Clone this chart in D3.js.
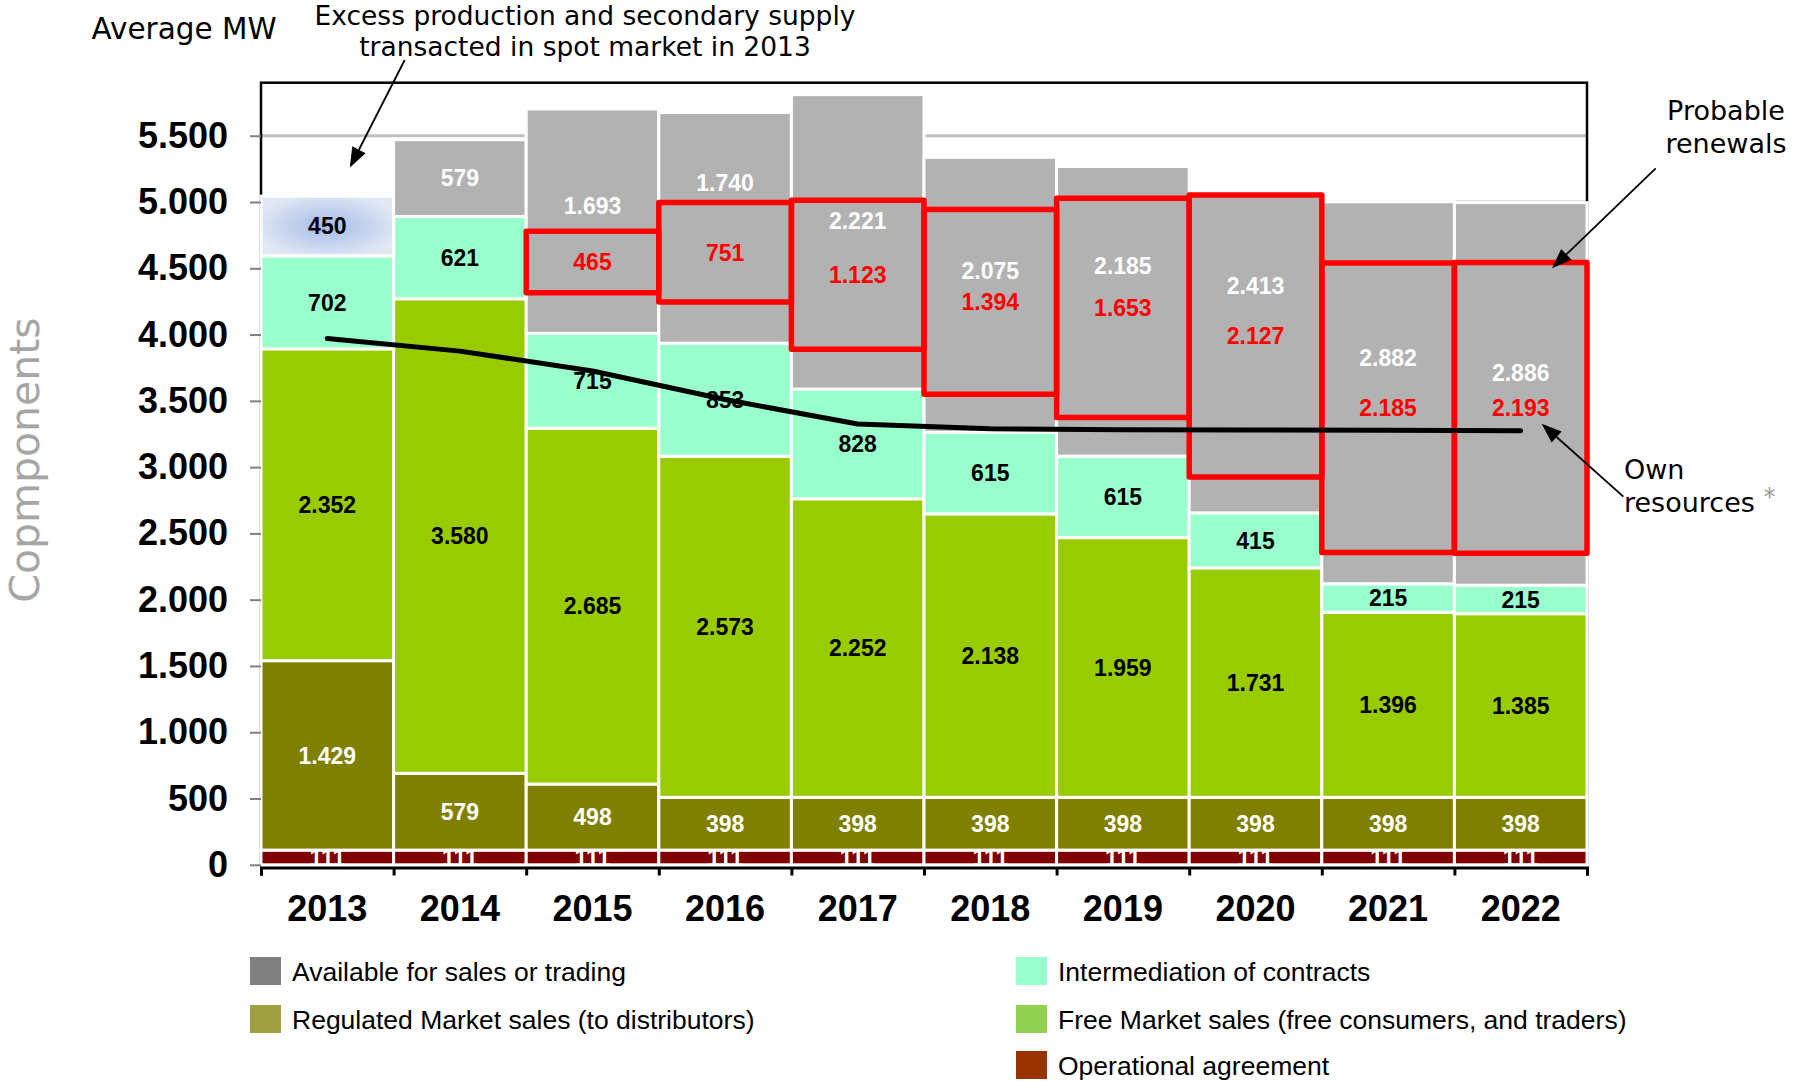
<!DOCTYPE html>
<html>
<head>
<meta charset="utf-8">
<script src="https://cdn.jsdelivr.net/npm/d3@7"></script>
<style>
  html, body { margin: 0; padding: 0; background: #ffffff; }
  svg { display: block; }
</style>
</head>
<body>
<svg id="chart" width="1793" height="1081"></svg>
<script>
// ---- Data (average MW) ----
const years = ["2013", "2014", "2015", "2016", "2017", "2018", "2019", "2020", "2021", "2022"];
const operational    = [111, 111, 111, 111, 111, 111, 111, 111, 111, 111];
const regulated      = [1429, 579, 498, 398, 398, 398, 398, 398, 398, 398];
const freeMarket     = [2352, 3580, 2685, 2573, 2252, 2138, 1959, 1731, 1396, 1385];
const intermediation = [702, 621, 715, 853, 828, 615, 615, 415, 215, 215];
const available      = [450, 579, 1693, 1740, 2221, 2075, 2185, 2413, 2882, 2886];
// probable renewals (red boxes) and the level their box starts from
const renewals       = [null, null, 465, 751, 1123, 1394, 1653, 2127, 2185, 2193];
const renewalsFloor  = [null, null, 4315, 4245, 3890, 3550, 3375, 2925, 2355, 2350];
// own resources line
const ownResources   = [3970, 3875, 3725, 3510, 3325, 3290, 3282, 3280, 3278, 3275];
const yTicks = [0, 500, 1000, 1500, 2000, 2500, 3000, 3500, 4000, 4500, 5000, 5500];

const seriesNames = {
  available: "Available for sales or trading",
  regulated: "Regulated Market sales (to distributors)",
  intermediation: "Intermediation of contracts",
  freeMarket: "Free Market sales (free consumers, and traders)",
  operational: "Operational agreement"
};

// ---- Layout & styles ----
const W = 1793, H = 1081;
const plot = { left: 261, right: 1587, top: 82.7, bottom: 864.8 };
const keys = ["operational", "regulated", "freeMarket", "intermediation", "available"];
const barColor = {
  operational: "#7F0000", regulated: "#808000", freeMarket: "#99CC00",
  intermediation: "#99FFCC", available: "#B2B2B2"
};
const labelColor = {
  operational: "#ffffff", regulated: "#ffffff", freeMarket: "#000000",
  intermediation: "#000000", available: "#ffffff"
};
// where the "available" values are written inside the grey blocks (MW level; null = centred)
const availableLabelAt = [null, null, 4971, 5143, 4859, 4480, 4523, 4367, 3824, 3712];

const legendItems = [
  { key: "available", color: "#808080", col: 0, row: 0 },
  { key: "intermediation", color: "#99FFCC", col: 1, row: 0 },
  { key: "regulated", color: "#A0A040", col: 0, row: 1 },
  { key: "freeMarket", color: "#92D050", col: 1, row: 1 },
  { key: "operational", color: "#993300", col: 1, row: 2 }
];

const ARIAL = "'Liberation Sans', Arial, Helvetica, sans-serif";
const VERDANA = "'DejaVu Sans', Verdana, sans-serif";

const fmt = d3.formatLocale({ decimal: ",", thousands: ".", grouping: [3], currency: ["", ""] }).format(",");

const svg = d3.select("#chart");
svg.append("rect").attr("width", W).attr("height", H).attr("fill", "#ffffff");

const defs = svg.append("defs");
const glow = defs.append("radialGradient").attr("id", "spotGlow")
  .attr("cx", "50%").attr("cy", "50%").attr("r", "55%");
glow.append("stop").attr("offset", "0%").attr("stop-color", "#A3BAE6");
glow.append("stop").attr("offset", "100%").attr("stop-color", "#E2E8F5");

// ---- Scales ----
const x = d3.scaleBand().domain(years).range([plot.left, plot.right]).padding(0);
const bw = x.bandwidth();
const y = d3.scaleLinear().domain([0, 5900]).range([plot.bottom, plot.top]);
const xEdge = d3.scaleLinear().domain([0, years.length]).range([plot.left, plot.right]);

// ---- Stack ----
const rows = years.map((yr, i) => ({
  year: yr,
  operational: operational[i],
  regulated: regulated[i],
  freeMarket: freeMarket[i],
  intermediation: intermediation[i],
  available: available[i]
}));
const stacked = d3.stack().keys(keys)(rows);

// ---- Gridlines ----
svg.append("g").selectAll("line").data(yTicks.filter(t => t > 0)).join("line")
  .attr("x1", plot.left).attr("x2", plot.right)
  .attr("y1", d => y(d)).attr("y2", d => y(d))
  .attr("stroke", "#C0C0C0").attr("stroke-width", 3);

// ---- Frame ----
svg.append("rect")
  .attr("x", plot.left).attr("y", plot.top)
  .attr("width", plot.right - plot.left).attr("height", plot.bottom - plot.top)
  .attr("fill", "none").attr("stroke", "#000").attr("stroke-width", 2.5);

// ---- Bars ----
const layer = svg.append("g").selectAll("g").data(stacked).join("g");
layer.selectAll("rect").data(s => s.map(d => ({ key: s.key, d }))).join("rect")
  .attr("x", o => x(o.d.data.year))
  .attr("width", bw)
  .attr("y", o => y(o.d[1]))
  .attr("height", o => y(o.d[0]) - y(o.d[1]))
  .attr("fill", o => (o.key === "available" && o.d.data.year === "2013") ? "url(#spotGlow)" : barColor[o.key])
  .attr("stroke", "#ffffff").attr("stroke-width", 3);

// ---- Y axis ----
const yAxis = svg.append("g").attr("transform", `translate(${plot.left},0)`)
  .call(d3.axisLeft(y).tickValues(yTicks).tickSize(11).tickPadding(22).tickFormat(fmt));
yAxis.select(".domain").remove();
yAxis.selectAll(".tick line").attr("stroke", "#808080").attr("stroke-width", 2);
yAxis.selectAll(".tick text")
  .attr("font-family", ARIAL).attr("font-size", 36).attr("font-weight", "bold").attr("fill", "#000");

// ---- X axis: boundary ticks and year labels ----
const xTickAxis = svg.append("g").attr("transform", `translate(0,${plot.bottom + 2.7})`)
  .call(d3.axisBottom(xEdge).tickValues(d3.range(years.length + 1)).tickSize(8).tickSizeOuter(8).tickFormat(""));
xTickAxis.select(".domain").attr("stroke", "#000").attr("stroke-width", 3);
xTickAxis.selectAll(".tick line").attr("stroke", "#000").attr("stroke-width", 3);

const xLabelAxis = svg.append("g").attr("transform", `translate(0,${plot.bottom})`)
  .call(d3.axisBottom(x).tickSize(0).tickPadding(30.6));
xLabelAxis.select(".domain").remove();
xLabelAxis.selectAll(".tick text")
  .attr("font-family", ARIAL).attr("font-size", 36).attr("font-weight", "bold").attr("fill", "#000");

// ---- Segment value labels ----
const labels = svg.append("g")
  .attr("font-family", ARIAL).attr("font-size", 23).attr("font-weight", "bold")
  .attr("text-anchor", "middle");
stacked.forEach(s => {
  s.forEach((d, i) => {
    let level = (d[0] + d[1]) / 2;
    if (s.key === "available" && availableLabelAt[i] != null) level = availableLabelAt[i];
    const col = (s.key === "available" && i === 0) ? "#000000" : labelColor[s.key];
    labels.append("text")
      .attr("x", x(d.data.year) + bw / 2)
      .attr("y", y(level))
      .attr("dy", "0.36em")
      .attr("fill", col)
      .text(fmt(d[1] - d[0]));
  });
});

// ---- Probable renewals boxes ----
const boxes = svg.append("g");
years.forEach((yr, i) => {
  if (renewals[i] == null) return;
  const lo = renewalsFloor[i], hi = renewalsFloor[i] + renewals[i];
  boxes.append("rect")
    .attr("x", x(yr)).attr("width", bw)
    .attr("y", y(hi)).attr("height", y(lo) - y(hi))
    .attr("fill", "none").attr("stroke", "#FF0000").attr("stroke-width", 5.5)
    .attr("stroke-linejoin", "round");
  boxes.append("text")
    .attr("x", x(yr) + bw / 2).attr("y", y((lo + hi) / 2)).attr("dy", "0.36em")
    .attr("text-anchor", "middle")
    .attr("font-family", ARIAL).attr("font-size", 23).attr("font-weight", "bold")
    .attr("fill", "#FF0000")
    .text(fmt(renewals[i]));
});

// ---- Own resources line ----
const line = d3.line().x((d, i) => x(years[i]) + bw / 2).y(d => y(d));
svg.append("path").datum(ownResources)
  .attr("d", line).attr("fill", "none")
  .attr("stroke", "#000").attr("stroke-width", 5)
  .attr("stroke-linecap", "round").attr("stroke-linejoin", "round");

// ---- Annotations ----
function arrow(x1, y1, x2, y2) {
  const ang = Math.atan2(y2 - y1, x2 - x1);
  const len = 20, half = 7.5;
  const bx = x2 - len * Math.cos(ang), by = y2 - len * Math.sin(ang);
  svg.append("line").attr("x1", x1).attr("y1", y1).attr("x2", bx).attr("y2", by)
    .attr("stroke", "#000").attr("stroke-width", 1.8);
  const px = -Math.sin(ang) * half, py = Math.cos(ang) * half;
  svg.append("polygon")
    .attr("points", `${x2},${y2} ${bx + px},${by + py} ${bx - px},${by - py}`)
    .attr("fill", "#000");
}

const note = svg.append("g").attr("font-family", VERDANA).attr("fill", "#000");
note.append("text").attr("x", 91.5).attr("y", 28.6).attr("dy", "0.36em")
  .attr("font-size", 29.5).text("Average MW");
note.append("text").attr("x", 585).attr("y", 15.5).attr("dy", "0.36em")
  .attr("font-size", 26.5).attr("text-anchor", "middle")
  .text("Excess production and secondary supply");
note.append("text").attr("x", 585).attr("y", 46.5).attr("dy", "0.36em")
  .attr("font-size", 26.5).attr("text-anchor", "middle")
  .text("transacted in spot market in 2013");
arrow(404.7, 60, x("2013") + 0.67 * bw, y(5260));

note.append("text").attr("x", 1726).attr("y", 110).attr("dy", "0.36em")
  .attr("font-size", 27).attr("text-anchor", "middle").text("Probable");
note.append("text").attr("x", 1726).attr("y", 143).attr("dy", "0.36em")
  .attr("font-size", 27).attr("text-anchor", "middle").text("renewals");
arrow(1655.7, 168.3, x("2022") + 0.736 * bw, y(4500));

note.append("text").attr("x", 1624).attr("y", 469).attr("dy", "0.36em")
  .attr("font-size", 27).text("Own");
const res = note.append("text").attr("x", 1624).attr("y", 502).attr("dy", "0.36em")
  .attr("font-size", 27);
res.append("tspan").text("resources ");
res.append("tspan").attr("fill", "#999999").attr("dy", "-0.3em").attr("font-size", 24).text("*");
arrow(1623.4, 496.7, x("2022") + bw / 2 + 21, y(ownResources[ownResources.length - 1]) - 7);

// ---- Y title ----
svg.append("text")
  .attr("transform", "translate(39,460) rotate(-90)")
  .attr("text-anchor", "middle")
  .attr("font-family", VERDANA).attr("font-size", 41).attr("fill", "#A6A6A6")
  .text("Copmponents");

// ---- Legend ----
const legend = svg.append("g").attr("font-family", ARIAL).attr("font-size", 26.5);
const colX = [250, 1016], rowY = [957, 1005, 1051];
legendItems.forEach(it => {
  const gx = colX[it.col], gy = rowY[it.row];
  legend.append("rect").attr("x", gx).attr("y", gy).attr("width", 31).attr("height", 28)
    .attr("fill", it.color);
  legend.append("text").attr("x", gx + 42).attr("y", gy + 14).attr("dy", "0.36em")
    .attr("fill", "#000").text(seriesNames[it.key]);
});
</script>
</body>
</html>
